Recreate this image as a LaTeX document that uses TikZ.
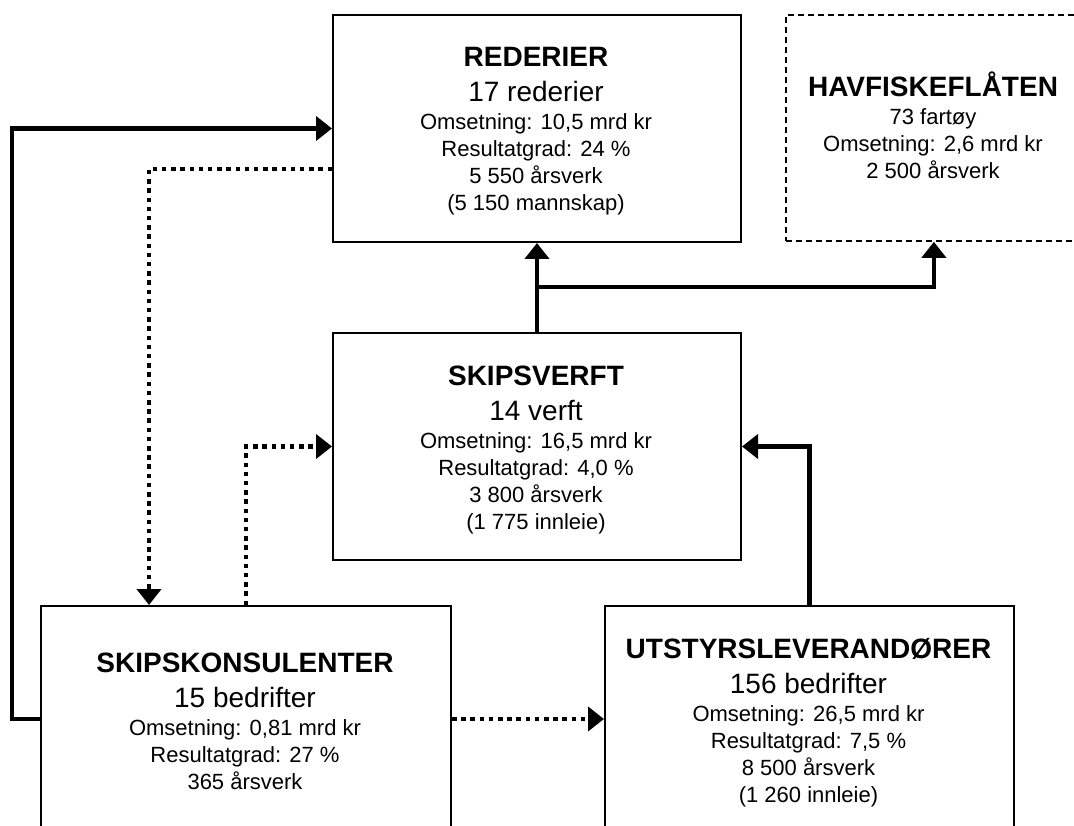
\documentclass[tikz,border=0pt]{standalone}
\usepackage{fontspec}
\setmainfont{Liberation Sans}
\usetikzlibrary{arrows.meta,calc}
\begin{document}
\begin{tikzpicture}[x=1pt,y=-1pt,
  box/.style={draw,line width=2pt,rectangle,inner sep=0pt,anchor=north west},
  dbox/.style={box,line width=1.8pt,dash pattern=on 6pt off 4pt},
  ttl/.style={font=\bfseries\fontsize{28}{30}\selectfont,anchor=base,inner sep=0pt},
  sub/.style={font=\fontsize{28}{30}\selectfont,anchor=base,inner sep=0pt},
  txt/.style={font=\fontsize{22}{26}\selectfont,anchor=base,inner sep=0pt},
  conn/.style={line width=4.2pt,-{Triangle[length=16pt,width=24pt]}},
  dotconn/.style={conn,dash pattern=on 4.5pt off 4.7pt}]
\useasboundingbox (0,0) rectangle (1074,826);
\clip (0,0) rectangle (1074,826);
% boxes
\node[box,minimum width=408pt,minimum height=227pt] (red) at (332,14) {};
\node[dbox,minimum width=296pt,minimum height=226pt] (hav) at (785,14) {};
\node[box,minimum width=408pt,minimum height=227pt] (verft) at (332,332) {};
\node[box,minimum width=410pt,minimum height=226pt] (kons) at (40,605) {};
\node[box,minimum width=409pt,minimum height=226pt] (utst) at (604,605) {};
% REDERIER
\node[ttl] (redA) at (536,67) {REDERIER};
\node[sub] (redB) at (536,102) {17 rederier};
\node[txt] (redC) at (536,130) {Omsetning: 10,5 mrd kr};
\node[txt] (redD) at (536,157) {Resultatgrad: 24 \%};
\node[txt] (redE) at (536,184) {5 550 årsverk};
\node[txt] (redF) at (536,211) {(5 150 mannskap)};
% HAVFISKEFLÅTEN
\node[ttl] (havA) at (933,97) {HAVFISKEFLÅTEN};
\node[txt] (havB) at (933,125) {73 fartøy};
\node[txt] (havC) at (933,152) {Omsetning: 2,6 mrd kr};
\node[txt] (havD) at (933,179) {2 500 årsverk};
% SKIPSVERFT
\node[ttl] (verA) at (536,385) {SKIPSVERFT};
\node[sub] (verB) at (536,420) {14 verft};
\node[txt] (verC) at (536,448) {Omsetning: 16,5 mrd kr};
\node[txt] (verD) at (536,475) {Resultatgrad: 4,0 \%};
\node[txt] (verE) at (536,502) {3 800 årsverk};
\node[txt] (verF) at (536,529) {(1 775 innleie)};
% SKIPSKONSULENTER
\node[ttl] (konA) at (245,672) {SKIPSKONSULENTER};
\node[sub] (konB) at (245,707) {15 bedrifter};
\node[txt] (konC) at (245,735) {Omsetning: 0,81 mrd kr};
\node[txt] (konD) at (245,762) {Resultatgrad: 27 \%};
\node[txt] (konE) at (245,789) {365 årsverk};
% UTSTYRSLEVERANDØRER
\node[ttl] (utsA) at (808.5,658) {UTSTYRSLEVERANDØRER};
\node[sub] (utsB) at (808.5,693) {156 bedrifter};
\node[txt] (utsC) at (808.5,721) {Omsetning: 26,5 mrd kr};
\node[txt] (utsD) at (808.5,748) {Resultatgrad: 7,5 \%};
\node[txt] (utsE) at (808.5,775) {8 500 årsverk};
\node[txt] (utsF) at (808.5,802) {(1 260 innleie)};
% connectors
\draw[conn] (kons.west) -- ++(-28,0) |- (red.west);
\draw[dotconn] ($(red.north west)+(0,155)$) -| ($(kons.north west)+(109,0)$);
\draw[dotconn] (kons.north) |- (verft.west);
\draw[dotconn] (kons.east) -- (utst.west);
\draw[conn] (utst.north) |- (verft.east);
\draw[conn] (verft.north) -- (red.south);
\coordinate (br) at (536,287);
\draw[conn] (br) -| (hav.south);
\end{tikzpicture}
\end{document}
